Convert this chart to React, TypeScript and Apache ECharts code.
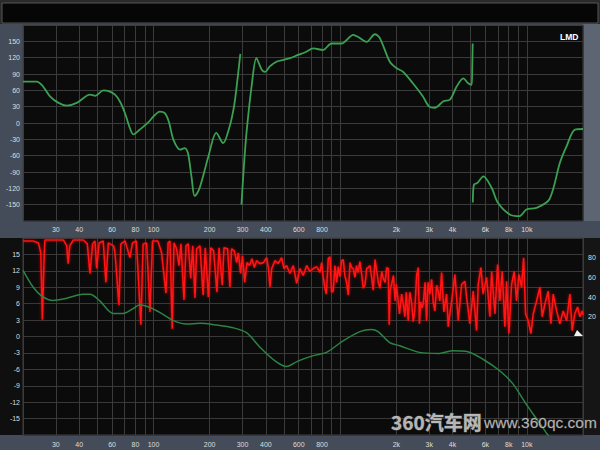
import React, { useEffect, useRef } from 'react';
import * as echarts from 'echarts';

// Frequency axis (Hz)
const xLabelHz = [30, 40, 60, 80, 100, 200, 300, 400, 600, 800, 2000, 3000, 4000, 6000, 8000, 10000];
const gridLineHz = [20, 30, 40, 50, 60, 70, 80, 90, 100, 200, 300, 400, 500, 600, 700, 800, 900, 1000, 2000, 3000, 4000, 5000, 6000, 7000, 8000, 9000, 10000, 20000];

// Phase (degrees) – three wrapped segments
const phaseSeg1: [number, number][] = [
  [20, 76], [23.7, 76], [25.5, 68], [27.9, 49], [31, 37], [34.3, 32], [38.8, 37], [45.7, 52], [48.8, 50], [53.8, 60],
  [58, 58], [62.2, 52], [66, 40], [70.4, 18], [74, -5], [78, -21], [84.6, -12], [93.8, 1], [100, 12], [108, 21],
  [115, 18], [121, 2], [128, -31], [139, -49], [147, -46], [153, -55], [160, -100], [166, -134], [172, -128], [178, -116],
  [187, -90], [197, -61], [217, -18], [236, -37], [256, -6], [270, 30], [279, 67], [292, 127],
];
const phaseSeg2: [number, number][] = [
  [296, -150], [305, -80], [315, -18], [337, 73], [356, 119], [380, 98], [396, 94], [420, 104], [458, 113], [496, 116],
  [538, 119], [594, 125], [650, 130], [718, 137], [810, 134], [898, 146], [1016, 146], [1176, 162], [1250, 158], [1386, 149],
  [1534, 163], [1632, 156], [1842, 113], [2000, 101], [2176, 94], [2452, 73], [2772, 49], [3000, 30], [3218, 28], [3574, 40],
  [3880, 43], [4210, 67], [4570, 82], [4850, 73], [5060, 70], [5100, 100], [5130, 146],
];
const phaseSeg3: [number, number][] = [
  [5140, -146], [5210, -113], [5440, -110], [5850, -98], [6480, -119], [6990, -146], [8100, -168], [9160, -171],
  [9940, -159], [11240, -156], [13220, -140], [15040, -73], [16320, -43], [18100, -12], [20000, -11],
];

// Magnitude (dB)
const magnitude: [number, number][] = [
  [20, 12.1], [22.7, 9], [25.2, 7.4], [29, 6.6], [34.3, 7], [42, 7.7], [45.7, 7.7], [51.6, 6.5], [60.9, 4.2], [68.7, 4.2],
  [77, 5], [84.6, 5.8], [95.6, 5.3], [108, 4.4], [128, 2.9], [150, 2.3], [178, 2.4], [217, 2.1], [267, 1.6], [315, 0.7],
  [373, -2], [438, -4.2], [516, -5.5], [594, -4.5], [718, -3.5], [845, -2.9], [1036, -0.8], [1276, 0.9], [1471, 1.3], [1597, 0.9],
  [1842, -1.1], [2090, -1.7], [2660, -2.9], [3400, -3.1], [4020, -2.6], [4720, -2.7], [5850, -4.2], [7180, -6.3], [8450, -8.7], [9940, -12.4],
  [11800, -16], [12900, -17.9], [13500, -19],
];

// Coherence (%) – low band
const coherenceLow: [number, number][] = [
  [20, 97], [22.7, 97], [24.2, 95], [24.9, 85], [25.4, 17], [25.9, 75], [26.2, 98], [29.1, 98], [32.9, 98], [34.3, 92],
  [34.9, 74], [35.6, 92], [37.2, 98], [42.1, 98], [44.2, 94], [45.7, 64], [47.2, 94], [48.6, 97], [49.6, 69], [51.2, 95],
  [53.8, 97], [55.6, 55], [57.3, 95], [61.2, 92], [62.2, 85], [65.3, 32], [66.9, 94], [70.4, 97], [74.8, 80], [77.2, 95],
  [81, 97], [85.6, 12], [88, 94], [91.9, 95], [95.8, 25], [98.8, 97], [105.6, 97], [110.5, 85], [116.6, 44], [119.8, 95],
  [122.6, 97], [126, 8], [128.8, 95], [133, 89], [137, 72], [140.4, 94], [145.7, 37], [149.3, 92], [153.6, 94], [158.3, 59],
  [162.3, 92], [166.9, 39], [170.3, 89], [177.4, 92], [184.6, 42], [189.4, 90], [196.8, 40], [202.9, 90], [209.9, 87], [218.7, 45],
  [224.5, 90], [233.6, 52], [238.6, 90], [249.5, 89], [256.8, 50], [262, 89], [271, 87], [279, 75], [285, 85], [293, 64],
  [300, 82], [308, 55], [317, 75], [327, 72], [337, 79], [347, 70], [357, 77], [372, 74], [388, 75], [404, 80],
  [413, 69], [421, 50], [430, 69], [448, 77], [466, 74], [486, 80], [500, 69], [517, 72], [538, 64], [561, 72],
  [585, 54],
];
// Coherence (%) – mid band
const coherenceMid: [number, number][] = [
  [609, 69], [634, 62], [662, 72], [689, 66], [718, 69], [748, 71], [780, 65], [796, 75], [811, 61], [829, 49],
  [843, 43], [864, 79], [882, 81], [900, 45], [918, 46], [938, 72], [958, 55], [978, 71], [997, 61], [1018, 77],
  [1039, 78], [1060, 62], [1083, 55], [1105, 42], [1130, 75], [1152, 70], [1176, 69], [1200, 60], [1225, 72], [1250, 65],
  [1276, 76], [1304, 63], [1330, 49], [1360, 53], [1387, 69], [1416, 70], [1444, 72], [1475, 60], [1504, 47], [1538, 78],
  [1569, 67], [1602, 55], [1634, 49], [1670, 66], [1702, 59], [1741, 55], [1776, 70], [1809, 69], [1832, 12], [1852, 46],
  [1887, 53], [1930, 62], [1970, 36], [2000, 53], [2048, 35], [2080, 23], [2135, 43], [2190, 30], [2224, 20], [2260, 45],
  [2316, 16], [2360, 45], [2410, 36], [2463, 15], [2510, 26], [2569, 62], [2620, 70], [2660, 13], [2698, 35], [2750, 29],
  [2787, 33], [2850, 55], [2906, 16], [2960, 55], [3027, 43], [3090, 58], [3152, 35], [3218, 26], [3287, 52], [3350, 46],
  [3420, 36], [3496, 65], [3597, 25], [3719, 43],
];
// Coherence (%) – high band
const coherenceHigh: [number, number][] = [
  [3793, 10], [3956, 36], [4120, 63], [4292, 16], [4476, 53], [4662, 56], [4758, 40], [4956, 13], [5162, 46], [5383, 6],
  [5492, 53], [5677, 70], [5830, 43], [6091, 60], [6343, 20], [6479, 66], [6748, 23], [6977, 73], [7177, 36], [7383, 66],
  [7633, 10], [7796, 56], [8019, 3], [8290, 53], [8560, 66], [8816, 36], [9070, 63], [9378, 50], [9612, 80], [9852, 23],
  [10174, 16], [10518, 3], [10820, 23], [11285, 36], [11753, 50], [12093, 20], [12501, 33], [13020, 46], [13462, 13], [13848, 43],
  [14440, 26], [15040, 13], [15670, 26], [16340, 16], [17015, 43], [17505, 6], [18073, 23], [18713, 30], [19250, 20], [19810, 26],
  [20000, 22],
];

const FONT = '"Liberation Sans", Arial, sans-serif';
const lg = (f: number) => Math.log10(f);
const fmtHz = (f: number) => (f >= 1000 ? `${Math.round(f / 1000)}k` : `${Math.round(f)}`);
const toXY = (pts: [number, number][]) => pts.map(([f, v]) => [lg(f), v]);

function xAxisFor(gridIndex: number, margin: number) {
  return {
    type: 'value',
    gridIndex,
    min: lg(20),
    max: lg(20000),
    axisLine: { show: false },
    axisTick: { show: false, customValues: gridLineHz.map(lg) },
    axisLabel: {
      customValues: xLabelHz.map(lg),
      formatter: (v: number) => fmtHz(Math.pow(10, v)),
      color: '#dedede',
      fontSize: 7,
      margin,
      fontFamily: FONT,
    },
    splitLine: { show: true, lineStyle: { color: '#3b3b3b', width: 1 } },
  };
}

export default function App() {
  const ref = useRef<HTMLDivElement>(null);
  useEffect(() => {
    if (!ref.current) return;
    const chart = echarts.init(ref.current, undefined, { renderer: 'svg' });
    const gridStyle = { show: true, backgroundColor: '#0b0b0b', borderColor: '#404040', borderWidth: 1 };
    const coherence = [...coherenceLow, ...coherenceMid, ...coherenceHigh];
    chart.setOption({
      animation: false,
      backgroundColor: '#434c58',
      grid: [
        { left: 23, top: 25, width: 560, height: 196, ...gridStyle },
        { left: 23, top: 238, width: 560, height: 197, ...gridStyle },
      ],
      xAxis: [xAxisFor(0, 5), xAxisFor(1, 6)],
      yAxis: [
        {
          type: 'value', gridIndex: 0, min: -180, max: 180, interval: 30,
          axisLine: { show: false }, axisTick: { show: false },
          axisLabel: { formatter: (v: number) => (Math.abs(v) === 180 ? '' : String(v)), color: '#dedede', fontSize: 7, margin: 3, fontFamily: FONT },
          splitLine: { lineStyle: { color: '#3b3b3b' } },
        },
        {
          type: 'value', gridIndex: 1, min: -18, max: 18, interval: 3,
          axisLine: { show: false }, axisTick: { show: false },
          axisLabel: { formatter: (v: number) => (Math.abs(v) === 18 ? '' : String(v)), color: '#dedede', fontSize: 7, margin: 3, fontFamily: FONT },
          splitLine: { lineStyle: { color: '#383838' } },
        },
        {
          type: 'value', gridIndex: 1, position: 'right', min: -100, max: 100, interval: 20,
          axisLine: { show: false }, axisTick: { show: false },
          axisLabel: { formatter: (v: number) => (v >= 20 && v <= 80 ? String(v) : ''), color: '#dedede', fontSize: 7, margin: 5, fontFamily: FONT },
          splitLine: { show: false },
        },
      ],
      series: [
        ...[phaseSeg1, phaseSeg2, phaseSeg3].map((seg) => ({
          type: 'line', xAxisIndex: 0, yAxisIndex: 0, data: toXY(seg), symbol: 'none', smooth: 0.3,
          lineStyle: { color: '#3aa152', width: 1.8 }, silent: true,
        })),
        {
          type: 'line', xAxisIndex: 1, yAxisIndex: 2, data: toXY(coherence), symbol: 'none',
          lineStyle: { color: '#ff1212', width: 1.6, shadowColor: 'rgba(255,0,0,0.7)', shadowBlur: 3 }, silent: true,
        },
        {
          type: 'line', xAxisIndex: 1, yAxisIndex: 1, data: toXY(magnitude), symbol: 'none', smooth: 0.3,
          lineStyle: { color: '#2b8443', width: 1.5 }, silent: true,
        },
      ],
      graphic: {
        elements: [
          { type: 'rect', z: -10, shape: { x: 0, y: 0, width: 600, height: 24 }, style: { fill: '#2a2a2a' } },
          { type: 'rect', z: -9, shape: { x: 2, y: 3, width: 596, height: 20 }, style: { fill: '#060606', stroke: '#575757', lineWidth: 1 } },
          { type: 'rect', z: -10, shape: { x: 583, y: 24, width: 17, height: 197 }, style: { fill: '#5c6571' } },
          { type: 'rect', z: -10, shape: { x: 0, y: 238, width: 23, height: 197 }, style: { fill: '#0f0f0f' } },
          { type: 'rect', z: -10, shape: { x: 583, y: 238, width: 17, height: 197 }, style: { fill: '#151515' } },
          { type: 'text', z: 100, x: 560, y: 32, style: { text: 'LMD', fill: '#ffffff', fontSize: 8.5, fontWeight: 'bold', fontFamily: FONT } },
          { type: 'polygon', z: 100, shape: { points: [[574, 336], [577, 330], [583, 336]] }, style: { fill: '#f0f0f0' } },
          { type: 'text', z: 100, x: 391, y: 412, style: { text: '360汽车网', fill: 'rgba(225,225,225,0.8)', stroke: 'rgba(90,90,90,0.8)', lineWidth: 1, fontSize: 19, fontWeight: 'bold', fontFamily: '"Noto Sans CJK SC", "Liberation Sans", sans-serif' } },
          { type: 'text', z: 100, x: 484, y: 414, style: { text: 'www.360qc.com', fill: 'rgba(215,215,215,0.8)', stroke: 'rgba(70,70,70,0.7)', lineWidth: 0.8, fontSize: 15.5, fontFamily: FONT } },
        ],
      },
    });
    return () => chart.dispose();
  }, []);
  return <div ref={ref} style={{ position: 'fixed', left: 0, top: 0, width: 600, height: 450 }} />;
}
